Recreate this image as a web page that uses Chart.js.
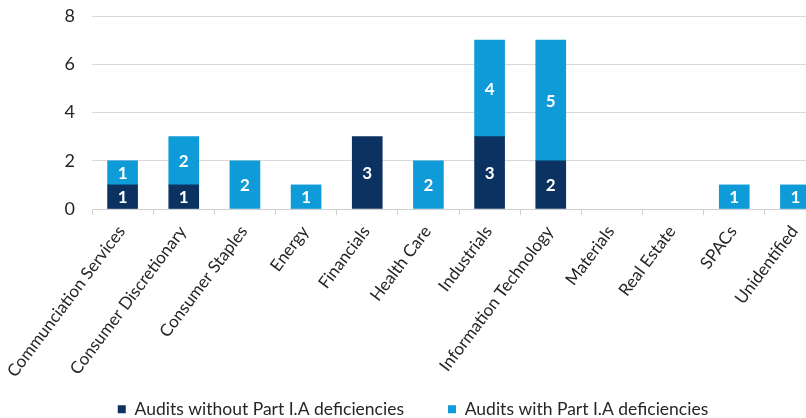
<!DOCTYPE html>
<html>
<head>
<meta charset="utf-8">
<script src="https://cdn.jsdelivr.net/npm/chart.js@4"></script>
<style>
  html, body { margin: 0; padding: 0; background: #fff; overflow: hidden; }
  #auditChart { display: block; }
</style>
</head>
<body>
<canvas id="auditChart" width="838" height="418"></canvas>
<script>
// sectors and audit counts
var sectors = ['Communciation Services', 'Consumer Discretionary', 'Consumer Staples', 'Energy', 'Financials', 'Health Care', 'Industrials', 'Information Technology', 'Materials', 'Real Estate', 'SPACs', 'Unidentified'];
var withoutDeficiencies = [1, 1, 0, 0, 3, 0, 3, 2, 0, 0, 0, 0];
var withDeficiencies = [1, 2, 2, 1, 0, 2, 4, 5, 0, 0, 1, 1];
var yTicks = [0, 2, 4, 6, 8];

var fontName = 'Lato, "Open Sans", sans-serif';

// zero counts are simply not drawn
function noZeros(arr) {
  return arr.map(function(v) { return v === 0 ? null : v; });
}

// white value labels in the middle of each segment
var segmentLabels = {
  id: 'segmentLabels',
  afterDatasetsDraw: function(chart) {
    var ctx = chart.ctx;
    ctx.save();
    ctx.fillStyle = '#ffffff';
    ctx.font = 'bold 17px ' + fontName;
    ctx.textAlign = 'center';
    ctx.textBaseline = 'middle';
    chart.data.datasets.forEach(function(ds, i) {
      var meta = chart.getDatasetMeta(i);
      meta.data.forEach(function(bar, j) {
        var v = ds.data[j];
        if (!v) return;
        var mid = (bar.y + bar.base) / 2;
        ctx.fillText(v, bar.x, mid + 1);
      });
    });
    ctx.restore();
  }
};

var ctx = document.getElementById('auditChart').getContext('2d');
var chart = new Chart(ctx, {
  type: 'bar',
  data: {
    labels: sectors,
    datasets: [{
      label: 'Audits without Part I.A deficiencies',
      data: noZeros(withoutDeficiencies),
      backgroundColor: '#0b3260',
      barThickness: 30
    }, {
      label: 'Audits with Part I.A deficiencies',
      data: noZeros(withDeficiencies),
      backgroundColor: '#0f9bd7',
      barThickness: 30
    }]
  },
  options: {
    responsive: false,
    animation: false,
    // legend box hangs a little below the canvas so it sits under the long labels
    layout: { padding: { top: 16, right: 12, left: 0, bottom: -10 } },
    plugins: {
      tooltip: { enabled: false },
      legend: {
        position: 'bottom',
        labels: {
          boxWidth: 8,
          boxHeight: 8,
          padding: 44,
          color: '#262626',
          font: { family: fontName, size: 17.5 }
        }
      }
    },
    scales: {
      x: {
        stacked: true,
        grid: {
          display: true,
          offset: true,
          drawOnChartArea: false,
          drawTicks: true,
          tickLength: 6,
          color: '#d0d0d0'
        },
        border: { display: true, color: '#d0d0d0' },
        ticks: {
          minRotation: 53,
          maxRotation: 53,
          autoSkip: false,
          padding: 7,
          labelOffset: -1,
          color: '#262626',
          font: { family: fontName, size: 17 }
        },
        afterFit: function(scale) {
          scale.height = 147.5;
          scale.paddingLeft = 0;
          scale.paddingRight = 0;
          // let the slanted labels run down past the legend's top edge
          scale._computeLabelArea = function() { return undefined; };
        }
      },
      y: {
        stacked: true,
        min: 0,
        max: 8,
        afterBuildTicks: function(scale) {
          scale.ticks = yTicks.map(function(v) { return { value: v }; });
        },
        grid: { color: '#d9d9d9', drawTicks: false },
        border: { display: false },
        ticks: {
          padding: 17,
          color: '#262626',
          font: { family: fontName, size: 18 }
        },
        afterFit: function(scale) {
          scale.width = 92;
          scale.paddingTop = 0;
          scale.paddingBottom = 0;
        }
      }
    }
  },
  plugins: [segmentLabels]
});
</script>
</body>
</html>
